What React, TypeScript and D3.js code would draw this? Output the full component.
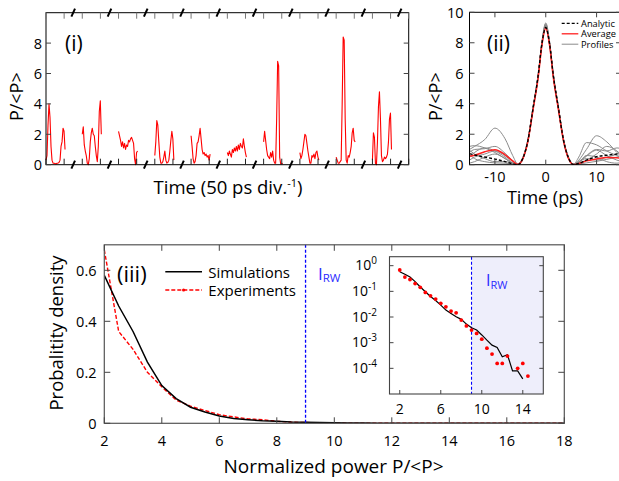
import React from 'react';
import * as d3 from 'd3';

const FONT = "'Open Sans', 'Noto Sans', sans-serif";

// ---------- Panel (i): time series, 10 segments ----------
const seg1 = [0.3, 0.6, 2.6, 4.0, 3.1, 1.2, 0.3, 0.1, 0.1, 0.08, 0.05, 0.1, 0.1, 0.15, 0.3, 1.2, 1.5, 2.4, 2.2, 1.0];
const seg2 = [2.0, 2.5, 1.3, 0.9, 0.6, 0.1, 0.0, 0.4, 1.5, 2.1, 2.4, 2.0, 1.9, 1.2, 0.6, 0.2, 1.2, 3.5, 4.2, 2.0];
const seg3 = [2.2, 1.9, 1.6, 1.2, 1.5, 1.1, 1.4, 1.0, 1.3, 1.2, 1.6, 1.5, 1.7, 1.8, 1.6, 1.4, 0.4, 0.0, 0.8, 0.9];
const seg4 = [0.6, 1.5, 2.9, 2.6, 1.5, 0.5, 0.1, 0.1, 0.2, 0.5, 0.9, 0.3, 0.1, 0.15, 0.3, 0.9, 1.6, 2.2, 1.7, 0.3];
const seg5 = [1.9, 1.2, 0.4, 0.1, 0.2, 0.6, 1.4, 1.5, 1.9, 2.4, 1.7, 1.0, 0.7, 0.8, 0.6, 0.7, 0.5, 0.6, 0.3, 0.7];
const seg6 = [0.8, 0.6, 0.9, 0.7, 0.5, 1.0, 0.8, 1.1, 0.9, 1.2, 0.9, 1.3, 1.0, 1.4, 1.2, 1.1, 1.7, 1.2, 0.8, 0.5];
const seg7 = [1.5, 2.2, 1.6, 1.0, 0.6, 0.5, 0.4, 0.8, 0.5, 0.9, 0.3, 0.1, 0.1, 3.0, 6.8, 6.5, 0.5, 0.05, 0.05, 0.1];
const seg8 = [0.8, 0.4, 0.6, 1.0, 1.5, 2.0, 1.9, 1.4, 0.9, 0.5, 0.1, 0.1, 0.6, 0.5, 0.7, 0.4, 0.8, 0.9, 0.5, 0.3];
const seg9 = [0.5, 0.3, 0.1, 0.1, 0.2, 0.3, 4.0, 8.4, 8.2, 3.0, 0.3, 0.1, 0.6, 0.5, 0.8, 1.2, 2.1, 2.4, 1.6, 1.5];
const seg10 = [0.3, 2.1, 1.8, 0.1, 0.0, 1.5, 3.8, 4.8, 3.0, 0.6, 0.2, 0.3, 0.5, 0.4, 0.5, 0.7, 1.5, 3.0, 3.4, 1.0];
const segments = [seg1, seg2, seg3, seg4, seg5, seg6, seg7, seg8, seg9, seg10];
const tsYTicks = [0, 2, 4, 6, 8];

// ---------- Panel (ii): pulse profiles ----------
const tGrid = [-15, -14, -12, -10, -8, -6.5, -5.5, -4.5, -3.5, -2.5, -1.5, -0.75, 0, 0.75, 1.5, 2.5, 3.5, 4.5, 5.5, 6.5, 8, 10, 12, 14, 15];
const analytic = [0.72, 0.64, 0.5, 0.37, 0.2, 0.06, 0.0, 0.42, 1.6, 3.7, 5.85, 7.95, 9.0, 7.95, 5.85, 3.7, 1.6, 0.42, 0.0, 0.08, 0.3, 0.52, 0.62, 0.7, 0.74];
const average = [0.55, 0.62, 0.85, 0.98, 0.65, 0.25, 0.02, 0.4, 1.55, 3.6, 5.7, 7.85, 8.95, 7.85, 5.7, 3.6, 1.55, 0.38, 0.0, 0.08, 0.25, 0.38, 0.47, 0.45, 0.42];
const profile1 = [1.0, 1.2, 1.65, 2.4, 1.7, 0.6, 0.05, 0.5, 1.7, 3.8, 5.9, 8.1, 9.3, 8.1, 5.9, 3.8, 1.7, 0.5, 0.05, 0.3, 1.0, 1.9, 1.5, 0.8, 0.5];
const profile2 = [1.2, 1.25, 1.1, 0.8, 0.4, 0.1, 0.02, 0.45, 1.6, 3.7, 5.8, 8.0, 9.2, 8.0, 5.8, 3.7, 1.6, 0.45, 0.05, 0.5, 1.45, 1.3, 0.9, 0.6, 0.5];
const profile3 = [0.8, 1.0, 1.05, 1.2, 0.75, 0.25, 0.03, 0.4, 1.6, 3.75, 5.85, 7.95, 9.1, 7.95, 5.85, 3.75, 1.6, 0.4, 0.02, 0.2, 0.6, 1.0, 0.9, 1.1, 1.05];
const profile4 = [0.5, 0.8, 1.1, 0.9, 0.5, 0.12, 0.02, 0.45, 1.65, 3.7, 5.8, 7.9, 9.05, 7.9, 5.8, 3.7, 1.65, 0.4, 0.02, 0.1, 0.3, 0.7, 1.2, 0.9, 0.6];
const profile5 = [0.3, 0.5, 0.7, 0.9, 0.6, 0.2, 0.02, 0.4, 1.55, 3.65, 5.75, 7.9, 9.0, 7.9, 5.75, 3.65, 1.55, 0.42, 0.03, 0.2, 0.4, 0.3, 0.5, 0.7, 0.9];
const profile6 = [0.1, 0.2, 0.5, 0.7, 0.4, 0.08, 0.01, 0.42, 1.6, 3.7, 5.85, 8.0, 9.15, 8.0, 5.85, 3.7, 1.6, 0.42, 0.02, 0.15, 0.55, 0.95, 0.6, 0.3, 0.2];
const profile7 = [0.95, 0.7, 0.4, 0.2, 0.2, 0.1, 0.02, 0.45, 1.6, 3.7, 5.8, 7.95, 9.1, 7.95, 5.8, 3.7, 1.6, 0.45, 0.02, 0.05, 0.12, 0.22, 0.35, 0.5, 0.6];
const profile8 = [0.65, 0.4, 0.2, 0.12, 0.1, 0.05, 0.01, 0.42, 1.6, 3.7, 5.8, 7.95, 9.25, 7.95, 5.8, 3.7, 1.6, 0.42, 0.03, 0.15, 0.6, 0.5, 0.2, 0.1, 0.15];
const profiles = [profile1, profile2, profile3, profile4, profile5, profile6, profile7, profile8];
const ppYTicks = [0, 2, 4, 6, 8, 10];
const ppXTicks = [-10, 0, 10];
const ppLegend = ['Analytic', 'Average', 'Profiles'];

// ---------- Panel (iii): probability density ----------
const probX = [2, 2.5, 3, 3.5, 4, 4.5, 5, 5.5, 6, 6.5, 7, 7.5, 8, 8.5, 9, 9.5, 10, 10.5, 11, 11.5, 12, 12.5, 13, 13.5, 14, 14.5];
const simDensity = [0.58, 0.46, 0.36, 0.24, 0.148, 0.097, 0.063, 0.044, 0.029, 0.0186, 0.0138, 0.0102, 0.0081, 0.0053, 0.0038, 0.0031, 0.002, 0.00125, 0.0008, 0.00065, 0.00028, 0.00034, 0.00008, 0.00008, 0.000039, null];
const expDensity = [0.68, 0.36, 0.29, 0.2, 0.143, 0.091, 0.067, 0.05, 0.034, 0.025, 0.017, 0.0146, 0.0076, 0.0045, 0.0031, 0.0023, 0.00137, 0.00061, 0.00036, 0.000155, 0.000155, 0.0003, null, 0.0001, 0.000155, 0.00005];
const tailX = [15, 16, 17, 18];
const simTail = [0.00002, 0.00001, 0.00001, 0.00001];
const expTail = [0.00003, 0.00001, 0.00001, 0.00001];
const pdXTicks = [2, 4, 6, 8, 10, 12, 14, 16, 18];
const pdYTicks = [0, 0.2, 0.4, 0.6];
const rogueThreshold = 9;
const insetXTicks = [2, 6, 10, 14];
const insetYExps = [0, -1, -2, -3, -4];

export default function App() {
  const xTS = d3.scaleLinear().domain([0, 20]).range([46, 408.7]);
  const yTS = d3.scaleLinear().domain([0, 10]).range([164.7, 12.7]);
  const xPP = d3.scaleLinear().domain([-15, 15]).range([469.5, 622]);
  const yPP = d3.scaleLinear().domain([0, 10]).range([164.7, 12.3]);
  const xPD = d3.scaleLinear().domain([2, 18]).range([104.3, 564.3]);
  const yPD = d3.scaleLinear().domain([0, 0.7]).range([423.3, 244.8]);
  const xIn = d3.scaleLinear().domain([1, 16]).range([389.5, 543.3]);
  const yIn = d3.scaleLog().domain([1e-5, Math.pow(10, 0.35)]).range([394, 256.7]);

  const segLine = d3.line<[number, number]>().x(d => xTS(d[0])).y(d => yTS(d[1]));
  const segPaths = segments.map((s, k) =>
    segLine(s.map((v, i) => [2 * k + (i * 1.05) / (s.length - 1), v] as [number, number])) || ''
  );
  const tsUnits = d3.range(0, 21);
  const breaks = d3.range(0, 10).map(k => 2 * k + 1.5);

  const ppLine = d3.line<[number, number]>().x(d => xPP(d[0])).y(d => yPP(d[1])).curve(d3.curveMonotoneX);
  const toPts = (arr: number[]) => arr.map((v, i) => [tGrid[i], v] as [number, number]);

  const pdLine = d3.line<[number, number]>().x(d => xPD(d[0])).y(d => yPD(d[1]));
  const simMain = probX.map((x, i) => [x, simDensity[i]]).concat(tailX.map((x, i) => [x, simTail[i]])).filter(d => d[1] != null) as [number, number][];
  const expMain = probX.map((x, i) => [x, expDensity[i]]).concat(tailX.map((x, i) => [x, expTail[i]])).filter(d => d[1] != null) as [number, number][];
  const inLine = d3.line<[number, number]>().x(d => xIn(d[0])).y(d => yIn(d[1]));
  const simIn = probX.map((x, i) => [x, simDensity[i]]).filter(d => d[1] != null) as [number, number][];
  const expIn = probX.map((x, i) => [x, expDensity[i]]).filter(d => d[1] != null) as [number, number][];

  const tsTop = yTS(10), tsBot = yTS(0);
  const ppTop = yPP(10), ppBot = yPP(0);
  const pdTop = yPD(0.7), pdBot = yPD(0);
  const inTop = yIn.range()[1], inBot = yIn.range()[0];

  return (
    <svg width={619} height={481} style={{ position: 'absolute', left: 0, top: 0, background: '#fff' }} fontFamily={FONT}>
      <defs>
        <clipPath id="ppClip"><rect x={xPP(-15)} y={ppTop} width={xPP(15) - xPP(-15)} height={ppBot - ppTop} /></clipPath>
        <clipPath id="pdClip"><rect x={xPD(2)} y={pdTop} width={xPD(18) - xPD(2)} height={pdBot - pdTop} /></clipPath>
      </defs>

      {/* ================= Panel (i) ================= */}
      <g>
        {segPaths.map((p, k) => (
          <path key={k} d={p} fill="none" stroke="#ff0000" strokeWidth={1.1} strokeLinejoin="round" />
        ))}
        <rect x={xTS(0)} y={tsTop} width={xTS(20) - xTS(0)} height={tsBot - tsTop} fill="none" stroke="#000" strokeWidth={1} />
        {tsUnits.map(u => (
          <g key={u}>
            <line x1={xTS(u)} x2={xTS(u)} y1={tsTop} y2={tsTop + 6} stroke="#777" strokeWidth={1} />
            <line x1={xTS(u)} x2={xTS(u)} y1={tsBot} y2={tsBot - 6} stroke="#222" strokeWidth={1} />
          </g>
        ))}
        {breaks.map(b => (
          <g key={b}>
            <line x1={xTS(b) - 1.8} x2={xTS(b) + 1.8} y1={tsTop + 4} y2={tsTop - 4} stroke="#000" strokeWidth={2} />
            <line x1={xTS(b) - 1.8} x2={xTS(b) + 1.8} y1={tsBot + 4} y2={tsBot - 4} stroke="#000" strokeWidth={2} />
          </g>
        ))}
        {tsYTicks.map(t => (
          <g key={t}>
            <line x1={xTS(0)} x2={xTS(0) + 5} y1={yTS(t)} y2={yTS(t)} stroke="#444" />
            <line x1={xTS(20)} x2={xTS(20) - 5} y1={yTS(t)} y2={yTS(t)} stroke="#444" />
            <text x={42} y={yTS(t)} textAnchor="end" dominantBaseline="central" fontSize={14.5}>{t}</text>
          </g>
        ))}
        <text x={65} y={43} dominantBaseline="central" fontSize={21}>(i)</text>
        <text transform={`translate(15.5,96.7) rotate(-90)`} textAnchor="middle" dominantBaseline="central" fontSize={18}>P/&lt;P&gt;</text>
        <text x={228} y={194} textAnchor="middle" fontSize={18.5}>
          Time (50 ps div.<tspan dy={-7} fontSize={11}>-1</tspan><tspan dy={7}>)</tspan>
        </text>
      </g>

      {/* ================= Panel (ii) ================= */}
      <g>
        <g clipPath="url(#ppClip)">
          {profiles.map((p, k) => (
            <path key={k} d={ppLine(toPts(p)) || ''} fill="none" stroke="#8a8a8a" strokeWidth={1} />
          ))}
          <path d={ppLine(toPts(average)) || ''} fill="none" stroke="#ff2020" strokeWidth={1.5} />
          <path d={ppLine(toPts(analytic)) || ''} fill="none" stroke="#000" strokeWidth={1.4} strokeDasharray="3,2" />
        </g>
        <rect x={xPP(-15)} y={ppTop} width={xPP(15) - xPP(-15)} height={ppBot - ppTop} fill="none" stroke="#000" strokeWidth={1} />
        {ppYTicks.map(t => (
          <g key={t}>
            <line x1={xPP(-15)} x2={xPP(-15) + 5} y1={yPP(t)} y2={yPP(t)} stroke="#444" />
            <line x1={xPP(15)} x2={xPP(15) - 6} y1={yPP(t)} y2={yPP(t)} stroke="#444" />
            <text x={463.5} y={yPP(t)} textAnchor="end" dominantBaseline="central" fontSize={14.5}>{t}</text>
          </g>
        ))}
        {ppXTicks.map(t => (
          <g key={t}>
            <line x1={xPP(t)} x2={xPP(t)} y1={ppTop} y2={ppTop + 5} stroke="#444" />
            <line x1={xPP(t)} x2={xPP(t)} y1={ppBot} y2={ppBot - 5} stroke="#444" />
            <text x={xPP(t)} y={176} textAnchor="middle" dominantBaseline="central" fontSize={14.5}>{t}</text>
          </g>
        ))}
        <text x={487} y={43} dominantBaseline="central" fontSize={21}>(ii)</text>
        <text transform={`translate(435,96.7) rotate(-90)`} textAnchor="middle" dominantBaseline="central" fontSize={18}>P/&lt;P&gt;</text>
        <text x={545} y={204} textAnchor="middle" fontSize={18}>Time (ps)</text>
        {ppLegend.map((name, i) => {
          const y = [23.4, 33.8, 44.2][i];
          const stroke = ['#000', '#ff2020', '#8a8a8a'][i];
          return (
            <g key={name}>
              <line x1={561.7} x2={578.3} y1={y} y2={y} stroke={stroke} strokeWidth={i === 2 ? 1 : 1.3} strokeDasharray={i === 0 ? '3,2' : undefined} />
              <text x={581} y={y + 3.3} fontSize={9.3}>{name}</text>
            </g>
          );
        })}
      </g>

      {/* ================= Panel (iii) ================= */}
      <g>
        <g clipPath="url(#pdClip)">
          <path d={pdLine(expMain) || ''} fill="none" stroke="#ff0000" strokeWidth={1.4} strokeDasharray="4,2" />
          <path d={pdLine(simMain) || ''} fill="none" stroke="#000" strokeWidth={1.5} />
        </g>
        <line x1={xPD(rogueThreshold)} x2={xPD(rogueThreshold)} y1={pdTop} y2={pdBot} stroke="#0000ff" strokeWidth={1.3} strokeDasharray="3,2" />
        <text x={318} y={273} dominantBaseline="central" fontSize={17} fill="#2a2aff">I<tspan dy={4} fontSize={11.5}>RW</tspan></text>
        <rect x={xPD(2)} y={pdTop} width={xPD(18) - xPD(2)} height={pdBot - pdTop} fill="none" stroke="#555" strokeWidth={1.2} />
        {pdXTicks.map(t => (
          <g key={t}>
            <line x1={xPD(t)} x2={xPD(t)} y1={pdTop} y2={pdTop + 6} stroke="#444" />
            <line x1={xPD(t)} x2={xPD(t)} y1={pdBot} y2={pdBot - 6} stroke="#444" />
            <text x={xPD(t)} y={440} textAnchor="middle" dominantBaseline="central" fontSize={14.5}>{t}</text>
          </g>
        ))}
        {pdYTicks.map(t => (
          <g key={t}>
            <line x1={xPD(2)} x2={xPD(2) + 6} y1={yPD(t)} y2={yPD(t)} stroke="#444" />
            <line x1={xPD(18)} x2={xPD(18) - 6} y1={yPD(t)} y2={yPD(t)} stroke="#444" />
            <text x={96.5} y={yPD(t)} textAnchor="end" dominantBaseline="central" fontSize={14.5}>{t}</text>
          </g>
        ))}
        <text x={117} y={273} dominantBaseline="central" fontSize={22}>(iii)</text>
        <line x1={165.3} x2={202} y1={271.7} y2={271.7} stroke="#000" strokeWidth={1.5} />
        <text x={208.3} y={271.7} dominantBaseline="central" fontSize={15}>Simulations</text>
        <line x1={165.3} x2={202} y1={290} y2={290} stroke="#ff0000" strokeWidth={1.4} strokeDasharray="4,2" />
        <circle cx={183.6} cy={290} r={1.6} fill="#ff0000" />
        <text x={208.3} y={290} dominantBaseline="central" fontSize={15}>Experiments</text>
        <text transform={`translate(55,333) rotate(-90)`} textAnchor="middle" dominantBaseline="central" fontSize={18.5}>Probalitity density</text>
        <text x={333.5} y={466} textAnchor="middle" dominantBaseline="central" fontSize={19}>Normalized power P/&lt;P&gt;</text>

        {/* inset */}
        <rect x={xIn(1)} y={inTop} width={xIn(rogueThreshold) - xIn(1)} height={inBot - inTop} fill="#fff" />
        <rect x={xIn(rogueThreshold)} y={inTop} width={xIn(16) - xIn(rogueThreshold)} height={inBot - inTop} fill="#eeeefb" />
        <line x1={xIn(rogueThreshold)} x2={xIn(rogueThreshold)} y1={inTop} y2={inBot} stroke="#0000ff" strokeWidth={1.1} strokeDasharray="3,2" />
        <path d={inLine(simIn) || ''} fill="none" stroke="#000" strokeWidth={1.2} />
        {expIn.map((d, i) => (
          <circle key={i} cx={xIn(d[0])} cy={yIn(d[1])} r={1.9} fill="#ff0000" />
        ))}
        <rect x={xIn(1)} y={inTop} width={xIn(16) - xIn(1)} height={inBot - inTop} fill="none" stroke="#444" strokeWidth={1.1} />
        {insetXTicks.map(t => (
          <g key={t}>
            <line x1={xIn(t)} x2={xIn(t)} y1={inBot} y2={inBot - 4} stroke="#444" />
            <text x={xIn(t)} y={408.3} textAnchor="middle" dominantBaseline="central" fontSize={14}>{t}</text>
          </g>
        ))}
        {insetYExps.map(e => (
          <g key={e}>
            <line x1={xIn(1)} x2={xIn(1) + 4} y1={yIn(Math.pow(10, e))} y2={yIn(Math.pow(10, e))} stroke="#444" />
            <line x1={xIn(16)} x2={xIn(16) - 4} y1={yIn(Math.pow(10, e))} y2={yIn(Math.pow(10, e))} stroke="#444" />
            <text x={377} y={yIn(Math.pow(10, e)) + 4.8} textAnchor="end" fontSize={14}>
              10<tspan dy={-6} fontSize={10}>{e}</tspan>
            </text>
          </g>
        ))}
        <text x={486} y={280} dominantBaseline="central" fontSize={16} fill="#2a2aff">I<tspan dy={4} fontSize={11}>RW</tspan></text>
      </g>
    </svg>
  );
}
